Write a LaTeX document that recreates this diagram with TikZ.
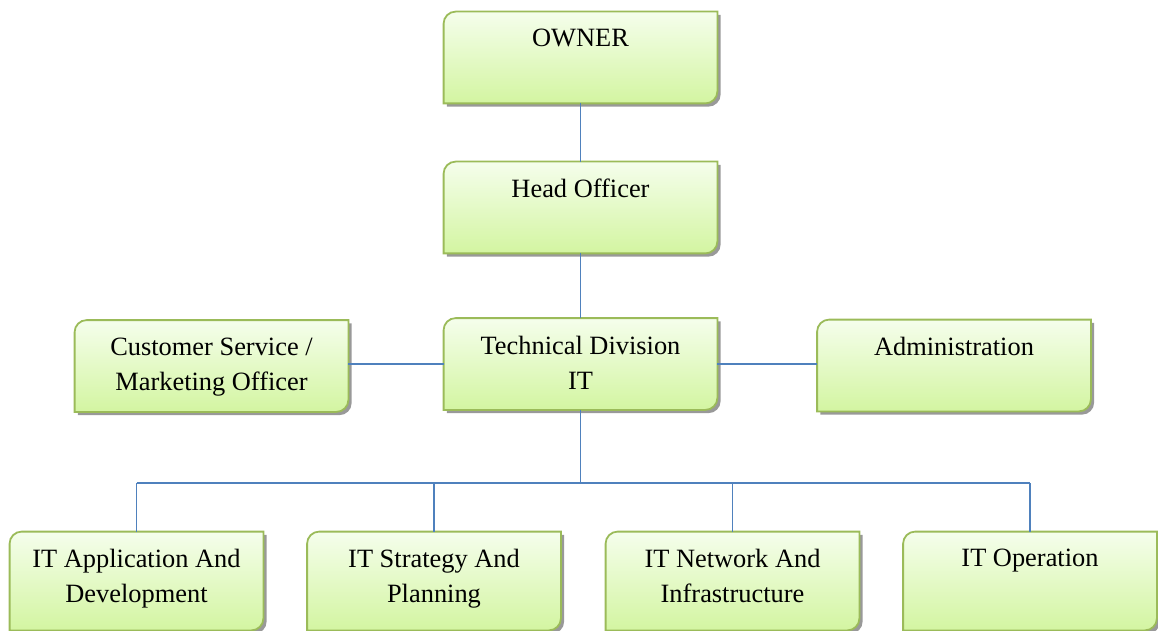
\documentclass[tikz,border=0pt]{standalone}
\usepackage{fontspec}
\setmainfont{Liberation Serif}
\usepackage{tikz}
\usetikzlibrary{calc}
\usetikzlibrary{shadows}

\definecolor{unitline}{RGB}{155,187,89}
\definecolor{unittop}{RGB}{245,254,236}
\definecolor{unitbottom}{RGB}{211,245,161}
\definecolor{linkblue}{RGB}{79,129,189}

\tikzset{
unit/.style={shape=rectangle, draw=none, inner sep=0pt,
  minimum width=136.5pt, minimum height=45.5pt},
lowunit/.style={unit, minimum width=126.5pt, minimum height=49pt},
unitpath/.style={insert path={
  ($(#1.north west)+(6pt,0)$) -- (#1.north east)
  -- ($(#1.south east)+(0,6pt)$) arc[start angle=0, end angle=-90, radius=6pt]
  -- (#1.south west)
  -- ($(#1.north west)+(0,-6pt)$) arc[start angle=180, end angle=90, radius=6pt]
  -- cycle}},
unitbox/.style={draw=unitline, line width=0.9pt,
  top color=unittop, bottom color=unitbottom,
  drop shadow={shadow xshift=1.6pt, shadow yshift=-1.6pt, fill=black!40, opacity=1}},
unittext/.style={anchor=north, inner sep=0pt, yshift=-8.7pt, align=center,
  font=\fontsize{13.2}{17.5}\selectfont},
link/.style={draw=linkblue, line width=0.8pt}
}

\begin{document}
\begin{tikzpicture}[x=0.5pt, y=0.5pt]

\useasboundingbox (0,0) rectangle (1158,-631);

\node (owner) [unit] at (580.5,-57.5) {};
\node (head) [unit] at (580.5,-207.5) {};
\node (tech) [unit] at (580.5,-364) {};
\node (cust) [unit] at (211.5,-366) {};
\node (admin) [unit] at (954,-365.5) {};

\node (appdev) [lowunit] at (136.5,-581) {};
\node (strategy) [lowunit] at (434,-581) {};
\node (network) [lowunit] at (732.5,-581) {};
\node (ops) [lowunit] at (1030,-581) {};

\foreach \n in {owner, head, tech, cust, admin, appdev, strategy, network, ops}
  \path [unitbox] [unitpath=\n];

\node (owner-t) [unittext] at (owner.north) {OWNER};
\node (head-t) [unittext] at (head.north) {Head Officer};
\node (tech-t) [unittext] at (tech.north) {Technical Division\\IT};
\node (cust-t) [unittext] at (cust.north) {Customer Service /\\Marketing Officer};
\node (admin-t) [unittext] at (admin.north) {Administration};
\node (appdev-t) [unittext] at (appdev.north) {IT Application And\\Development};
\node (strategy-t) [unittext] at (strategy.north) {IT Strategy And\\Planning};
\node (network-t) [unittext] at (network.north) {IT Network And\\Infrastructure};
\node (ops-t) [unittext] at (ops.north) {IT Operation};

% links
\coordinate (bus) at (580.5,-483);
\draw [link] (owner) -- (head);
\draw [link] (head) -- (tech);
\draw [link] (tech.west) -- (tech.west -| cust.east);
\draw [link] (tech.east) -- (tech.east -| admin.west);
\draw [link] (tech.south) -- (bus);
\draw [link] (appdev.north |- bus) -- (ops.north |- bus);
\foreach \n in {appdev, strategy, network, ops}
  \draw [link] (\n.north |- bus) -- (\n.north);

\end{tikzpicture}
\end{document}
